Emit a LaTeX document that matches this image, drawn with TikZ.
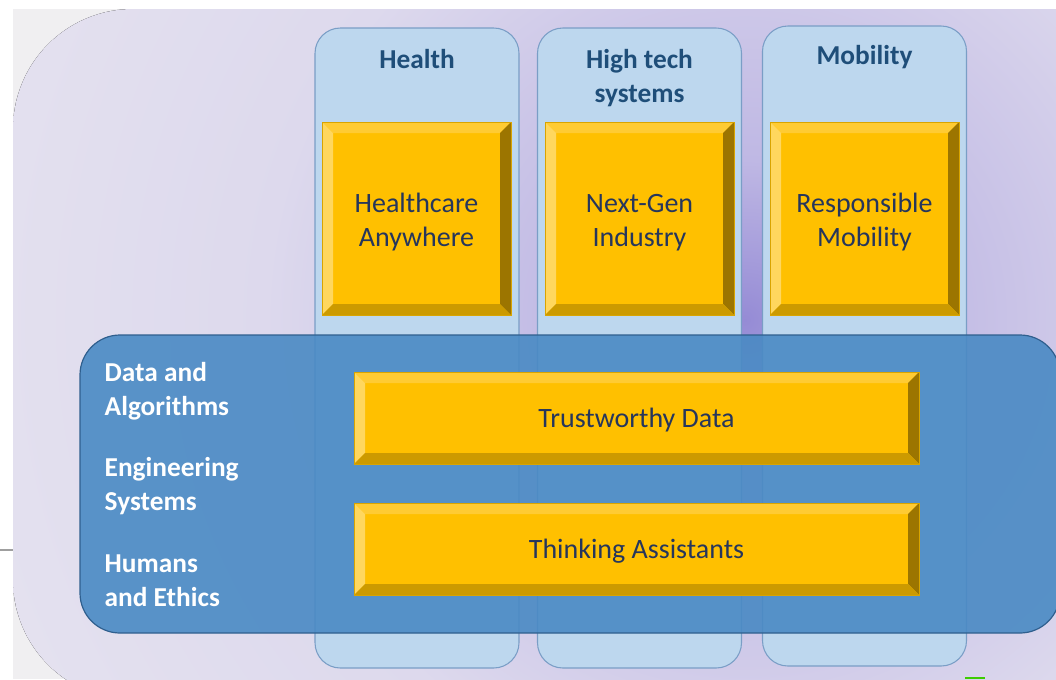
\documentclass[tikz,border=0pt]{standalone}
\usepackage{fontspec}
\setmainfont{Carlito}
\definecolor{bgA}{HTML}{958BD5}
\definecolor{bgB}{HTML}{BFB8E4}
\definecolor{bgC}{HTML}{DDD9ED}
\definecolor{bgD}{HTML}{EFEEF2}
\definecolor{bgOut}{HTML}{F0EFF1}
\definecolor{colfill}{HTML}{BDD7EE}
\definecolor{coledge}{HTML}{7A9EC6}
\definecolor{bandfill}{HTML}{4A8AC4}
\definecolor{bandedge}{HTML}{2F5F8E}
\definecolor{titlecol}{HTML}{1F4E79}
\definecolor{boxtext}{HTML}{26365C}
\definecolor{cy}{HTML}{FFC000}
\definecolor{cytop}{HTML}{FFCB33}
\definecolor{cyleft}{HTML}{FFD75E}
\definecolor{cyright}{HTML}{9C7500}
\definecolor{cybot}{HTML}{CC9A00}
\definecolor{cyedge}{HTML}{D9A400}
\pgfdeclareradialshading{bgshade}{\pgfpoint{0bp}{0bp}}{color(0bp)=(bgA); color(5bp)=(bgB); color(15bp)=(bgC); color(40bp)=(bgD); color(50bp)=(bgD)}
\newcommand{\bvd}{8.25pt}
\newcommand{\twolines}[2]{\raisebox{-3pt}[\height][\depth]{\begin{tabular}{@{}c@{}}#1\\#2\end{tabular}}}
\newcommand{\oneline}[1]{\raisebox{-1.5pt}[\height][\depth]{#1}}
\begin{document}
\begin{tikzpicture}[x=0.75pt,y=-0.75pt,
  column/.style={draw=coledge, fill=colfill, line width=0.8pt, rounded corners=19pt,
    minimum width=153pt, minimum height=480pt, inner sep=0pt},
  title/.style={text=titlecol, font=\fontsize{20.5}{25.5}\selectfont\bfseries, align=center},
  leftlab/.style={text=white, font=\fontsize{20.5}{25.5}\selectfont\bfseries, align=left, anchor=west},
  bevel/.style={fill=cy, draw=cyedge, line width=0.6pt, text=boxtext, align=center,
    font=\fontsize{21}{25.5}\selectfont, inner sep=0pt,
    path picture={
      \fill[cytop] (path picture bounding box.north west) -- (path picture bounding box.north east)
        -- ([xshift=-\bvd,yshift=-\bvd]path picture bounding box.north east)
        -- ([xshift=\bvd,yshift=-\bvd]path picture bounding box.north west) -- cycle;
      \fill[cyleft] (path picture bounding box.north west) -- ([xshift=\bvd,yshift=-\bvd]path picture bounding box.north west)
        -- ([xshift=\bvd,yshift=\bvd]path picture bounding box.south west)
        -- (path picture bounding box.south west) -- cycle;
      \fill[cyright] (path picture bounding box.north east) -- ([xshift=-\bvd,yshift=-\bvd]path picture bounding box.north east)
        -- ([xshift=-\bvd,yshift=\bvd]path picture bounding box.south east)
        -- (path picture bounding box.south east) -- cycle;
      \fill[cybot] (path picture bounding box.south west) -- ([xshift=\bvd,yshift=\bvd]path picture bounding box.south west)
        -- ([xshift=-\bvd,yshift=\bvd]path picture bounding box.south east)
        -- (path picture bounding box.south east) -- cycle;
    }},
  squarebox/.style={bevel, minimum width=141.75pt, minimum height=144.75pt},
  barbox/.style={bevel, minimum width=423.75pt, minimum height=69pt}
]
\useasboundingbox (0,0) rectangle (1056,679);
\fill[white] (0,0) rectangle (1056,679);
\fill[bgOut] (13,9) rectangle (1056,679);
\begin{scope}
  \clip[rounded corners=90pt] (13,9) -- (1200,9) -- (1200,700) -- (13,700) -- cycle;
  \fill[shading=bgshade] (745,320) circle[radius=600pt];
\end{scope}
\draw[gray!75, line width=0.9pt] (0,550) -- (13,550);
\fill[green!60!lime!80!black] (965,676.5) rectangle (985,679);

% columns
\node[column] (colH) at (417,348) {};
\node[column] (colT) at (639.5,348) {};
\node[column] (colM) at (864.5,346) {};

% titles
\node[title] (tH) at (417,59) {Health};
\node[title] (tT) at (639.5,78) {High tech\\systems};
\node[title] (tM) at (864.5,57) {Mobility};

% square boxes
\node[squarebox] (bH) at (416.5,218.5) {\twolines{Healthcare}{Anywhere}};
\node[squarebox] (bT) at (639.5,218.5) {\twolines{Next-Gen}{Industry}};
\node[squarebox] (bM) at (864.5,218.5) {\twolines{Responsible}{Mobility}};

% band
\node[draw=bandedge, fill=bandfill, fill opacity=0.9, line width=0.9pt, rounded corners=30pt,
  minimum width=735pt, minimum height=223.5pt, inner sep=0pt] (band) at (570,484) {};

% left labels
\node[leftlab] (l1) at (100,391) {Data and\\Algorithms};
\node[leftlab] (l2) at (100,486) {Engineering\\Systems};
\node[leftlab] (l3) at (100,581) {Humans\\and Ethics};

% bars
\node[barbox] (bar1) at (636.5,418) {\oneline{Trustworthy Data}};
\node[barbox] (bar2) at (636.5,549) {\oneline{Thinking Assistants}};
\end{tikzpicture}
\end{document}
